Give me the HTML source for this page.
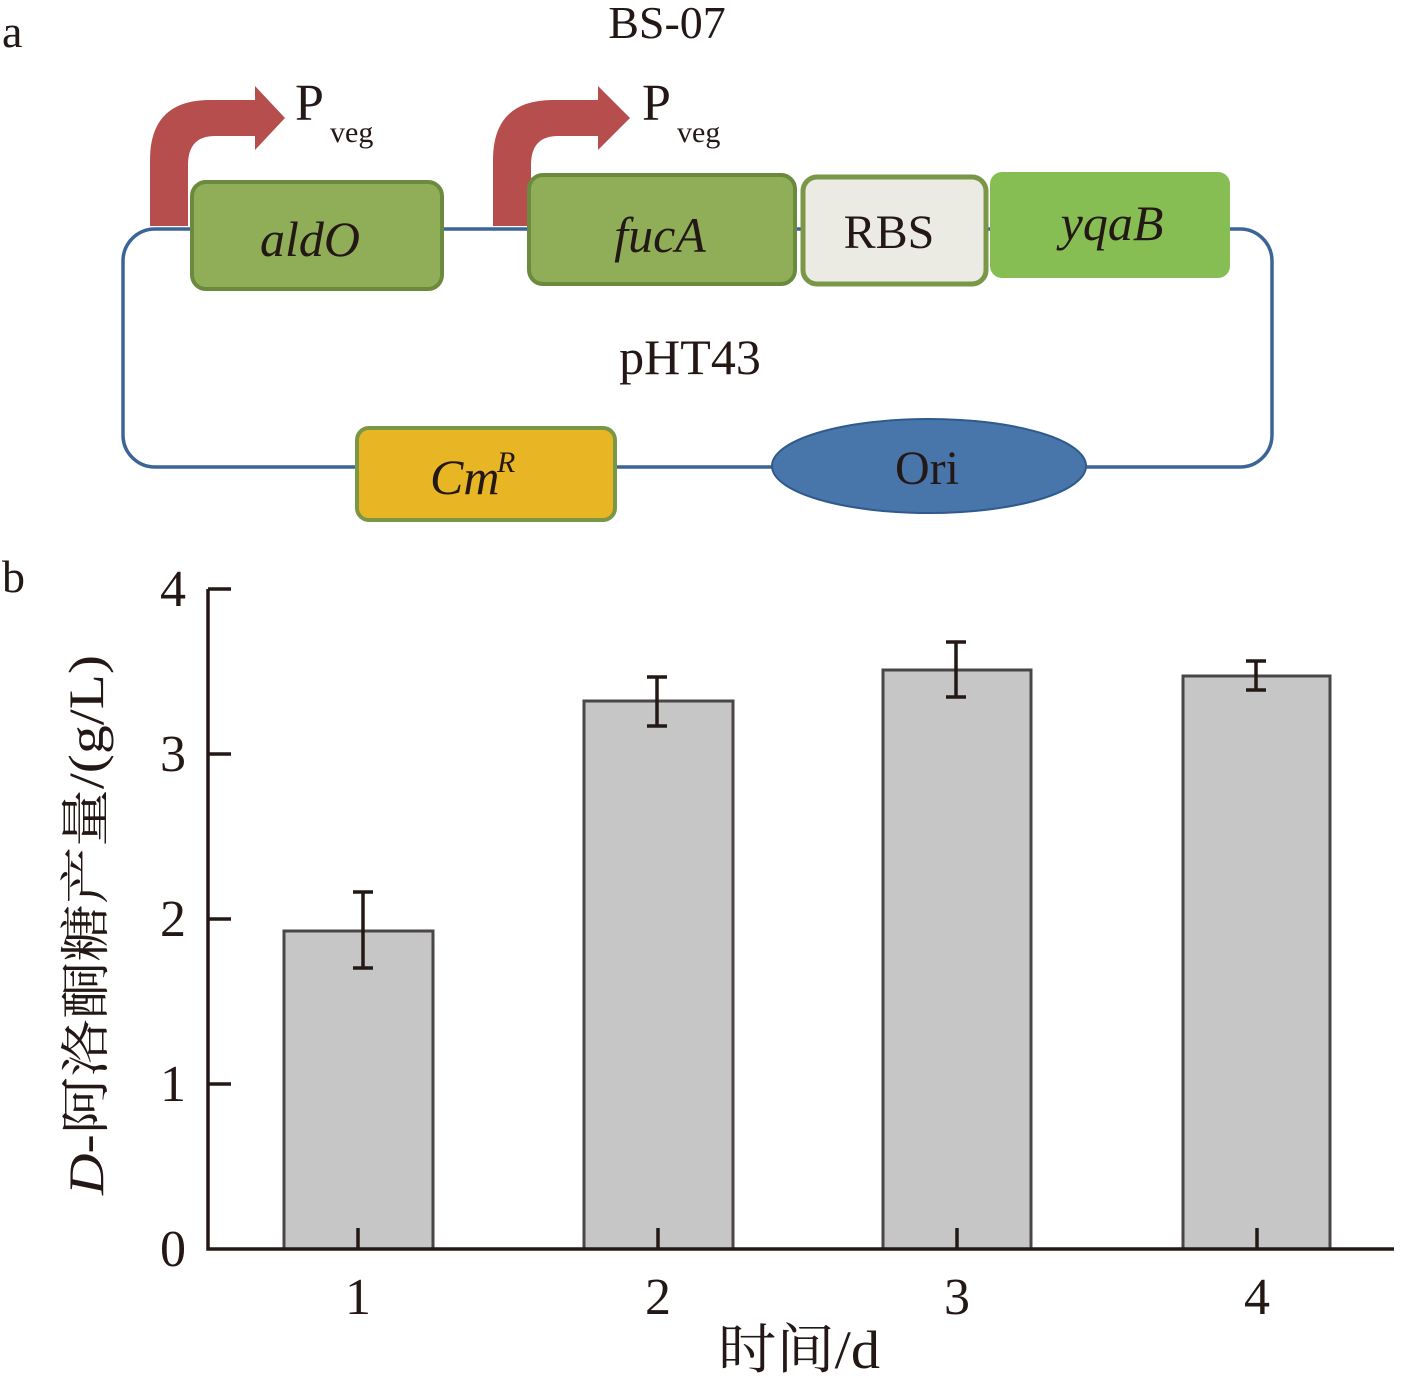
<!DOCTYPE html>
<html><head><meta charset="utf-8"><style>
html,body{margin:0;padding:0;background:#fff;}
svg{display:block;}
text{font-family:"Liberation Serif","Noto Serif CJK SC",serif;fill:#231815;}
.it{font-family:"Liberation Serif",serif;font-style:italic;}
</style></head><body>
<svg width="1409" height="1376" viewBox="0 0 1409 1376" xmlns="http://www.w3.org/2000/svg">
<text x="2" y="47" font-size="46">a</text>
<text x="667" y="38" font-size="46" text-anchor="middle">BS-07</text>
<rect x="123" y="229" width="1149" height="238" rx="32" fill="none" stroke="#3b6597" stroke-width="3.5"/>
<path d="M150,226 L150,160 Q150,100 210,100 L255,100 L255,86 L285,118 L255,150 L255,136 L215,136 Q188,136 188,165 L188,226 Z" fill="#b54e4c"/>
<path d="M493,226 L493,160 Q493,100 553,100 L598,100 L598,86 L630,118 L598,150 L598,136 L558,136 Q531,136 531,165 L531,226 Z" fill="#b54e4c"/>
<text x="295" y="120" font-size="52">P</text><text x="330" y="142" font-size="30">veg</text>
<text x="642" y="120" font-size="52">P</text><text x="677" y="142" font-size="30">veg</text>
<rect x="192" y="182" width="250" height="107" rx="14" fill="#8fae57" stroke="#6b8a3d" stroke-width="4"/>
<text x="310" y="256" font-size="50" class="it" text-anchor="middle">aldO</text>
<rect x="529" y="175" width="266" height="109" rx="14" fill="#8fae57" stroke="#6b8a3d" stroke-width="4"/>
<text x="660" y="252" font-size="50" class="it" text-anchor="middle">fucA</text>
<rect x="803" y="177" width="183" height="107" rx="14" fill="#ecebe3" stroke="#7a9747" stroke-width="5"/>
<text x="889" y="248" font-size="48" text-anchor="middle">RBS</text>
<rect x="990" y="172" width="240" height="106" rx="12" fill="#87be53"/>
<text x="1112" y="240" font-size="50" class="it" text-anchor="middle">yqaB</text>
<rect x="357" y="428" width="258" height="92" rx="12" fill="#e8b524" stroke="#7a9747" stroke-width="4"/>
<text x="430" y="494" font-size="50" class="it">Cm</text><text x="497" y="472" font-size="30" class="it">R</text>
<ellipse cx="929" cy="466" rx="157" ry="47" fill="#4875aa" stroke="#2f5a8e" stroke-width="2"/>
<text x="927" y="484" font-size="48" text-anchor="middle">Ori</text>
<text x="690" y="374" font-size="50" text-anchor="middle">pHT43</text>
<text x="2" y="592" font-size="46">b</text>
<g fill="#c6c6c6" stroke="#4a4646" stroke-width="3">
<rect x="284" y="931" width="149" height="318"/>
<rect x="584" y="701" width="149" height="548"/>
<rect x="883" y="670" width="148" height="579"/>
<rect x="1183" y="676" width="147" height="573"/>
</g>
<g stroke="#231815" stroke-width="3.5" fill="none">
<path d="M208,589 L208,1249 L1394,1249"/>
<path d="M208,589 L231,589 M208,754 L231,754 M208,919 L231,919 M208,1084 L231,1084"/>
<path d="M358,1249 L358,1228 M658,1249 L658,1228 M957,1249 L957,1228 M1257,1249 L1257,1228"/>
<path d="M363,892 L363,968 M353,892 L373,892 M353,968 L373,968"/>
<path d="M657,677 L657,726 M647,677 L667,677 M647,726 L667,726"/>
<path d="M956,642 L956,697 M946,642 L966,642 M946,697 L966,697"/>
<path d="M1256,661 L1256,690 M1246,661 L1266,661 M1246,690 L1266,690"/>
</g>
<g font-size="52" text-anchor="end">
<text x="186" y="606">4</text><text x="186" y="771">3</text><text x="186" y="936">2</text><text x="186" y="1101">1</text><text x="186" y="1266">0</text>
</g>
<g font-size="52" text-anchor="middle">
<text x="358" y="1314">1</text><text x="658" y="1314">2</text><text x="957" y="1314">3</text><text x="1257" y="1314">4</text>
</g>
<text x="799" y="1368" font-size="54" text-anchor="middle" textLength="162" lengthAdjust="spacingAndGlyphs">时间/d</text>
<text transform="translate(103,925) rotate(-90)" font-size="50" text-anchor="middle" textLength="540" lengthAdjust="spacingAndGlyphs"><tspan class="it">D</tspan>-阿洛酮糖产量/(g/L)</text>
</svg>
</body></html>
